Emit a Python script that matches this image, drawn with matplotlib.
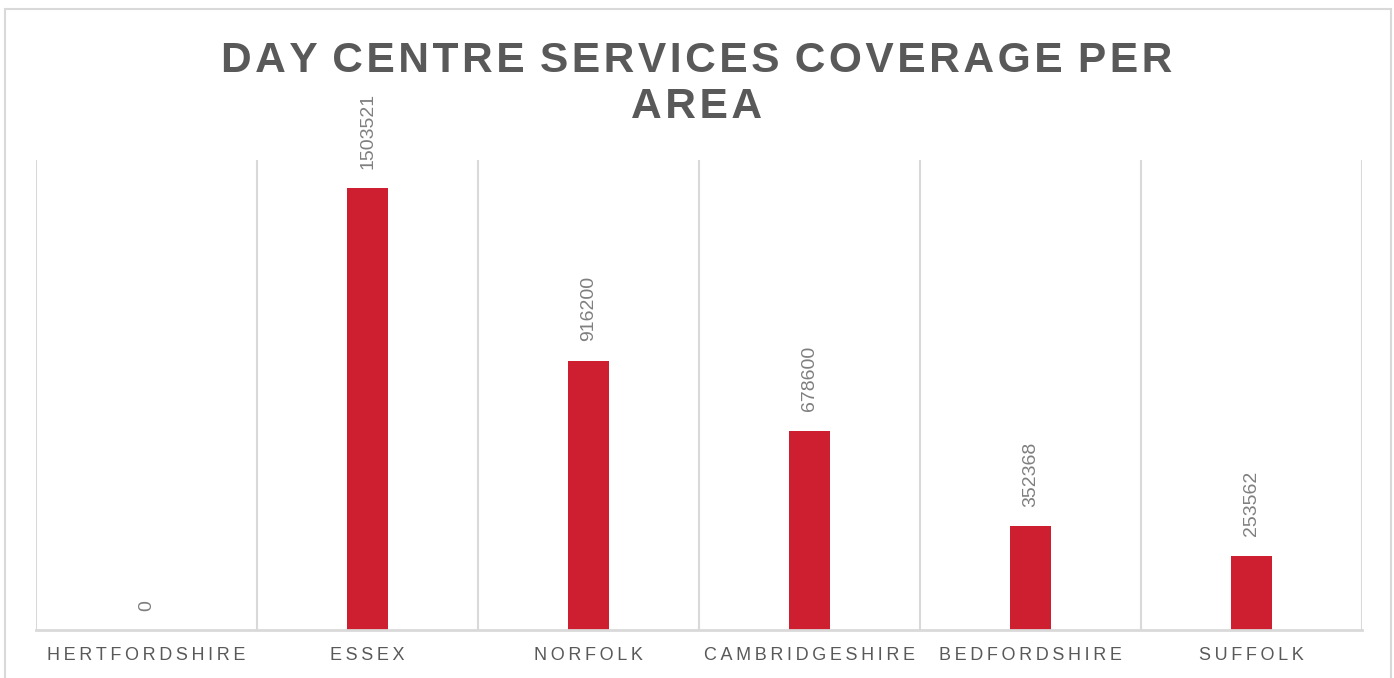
import matplotlib
matplotlib.use("Agg")
import matplotlib.pyplot as plt
from matplotlib.patches import Rectangle

# Data
areas = ["HERTFORDSHIRE", "ESSEX", "NORFOLK", "CAMBRIDGESHIRE", "BEDFORDSHIRE", "SUFFOLK"]
coverage = [0, 1503521, 916200, 678600, 352368, 253562]
title_lines = ["DAY CENTRE SERVICES COVERAGE PER", "AREA"]


def spaced(s, gap):
    """Widen the tracking of a caption by putting a narrow space between letters."""
    words = s.split(" ")
    return (" " + gap).join(gap.join(w) for w in words)


W, H = 1394, 678
fig = plt.figure(figsize=(W / 100, H / 100), dpi=100)
fig.patch.set_facecolor("white")

grey_line = "#D9D9D9"
text_dark = "#595959"
text_label = "#7F7F7F"
bar_red = "#CD1F2F"

# Chart frame
fig.add_artist(Rectangle((5 / W, -0.02), 1386 / W, 1.02 - 9 / H,
                         transform=fig.transFigure, fill=False,
                         edgecolor=grey_line, linewidth=1.5))

ax = fig.add_axes([36 / W, 1 - 630 / H, 1326 / W, 470 / H])
x = list(range(len(areas)))
ax.bar(x, coverage, width=0.185, color=bar_red, zorder=3)

ax.set_xlim(-0.5, len(areas) - 0.5)
ax.set_ylim(0, 1600000)

# Category separators
for b in [i - 0.5 for i in range(len(areas) + 1)]:
    ax.axvline(b, color=grey_line, linewidth=1.5, zorder=1)

for s in ["top", "right", "left"]:
    ax.spines[s].set_visible(False)
ax.spines["bottom"].set_color(grey_line)
ax.spines["bottom"].set_linewidth(2)
ax.spines["bottom"].set_zorder(4)

ax.set_yticks([])
ax.set_xticks(x)
ax.set_xticklabels([spaced(a, "\u2009") for a in areas], fontsize=13,
                   color=text_dark, family="Liberation Sans")
ax.tick_params(axis="x", length=0, pad=12)

for xi, v in zip(x, coverage):
    ax.annotate(f"{v}", (xi, v), xytext=(0, 14), textcoords="offset points",
                rotation=90, ha="center", va="bottom", fontsize=14,
                color=text_label, family="Liberation Sans")

title = "\n".join(spaced(t, "\u200a") for t in title_lines)
fig.text(697 / W, 1 - 118 / H, title, ha="center", va="baseline",
         fontsize=30.6, fontweight="bold", color=text_dark,
         family="Liberation Sans", linespacing=1.2, multialignment="center")

fig.savefig("out.png", dpi=100, facecolor="white")
